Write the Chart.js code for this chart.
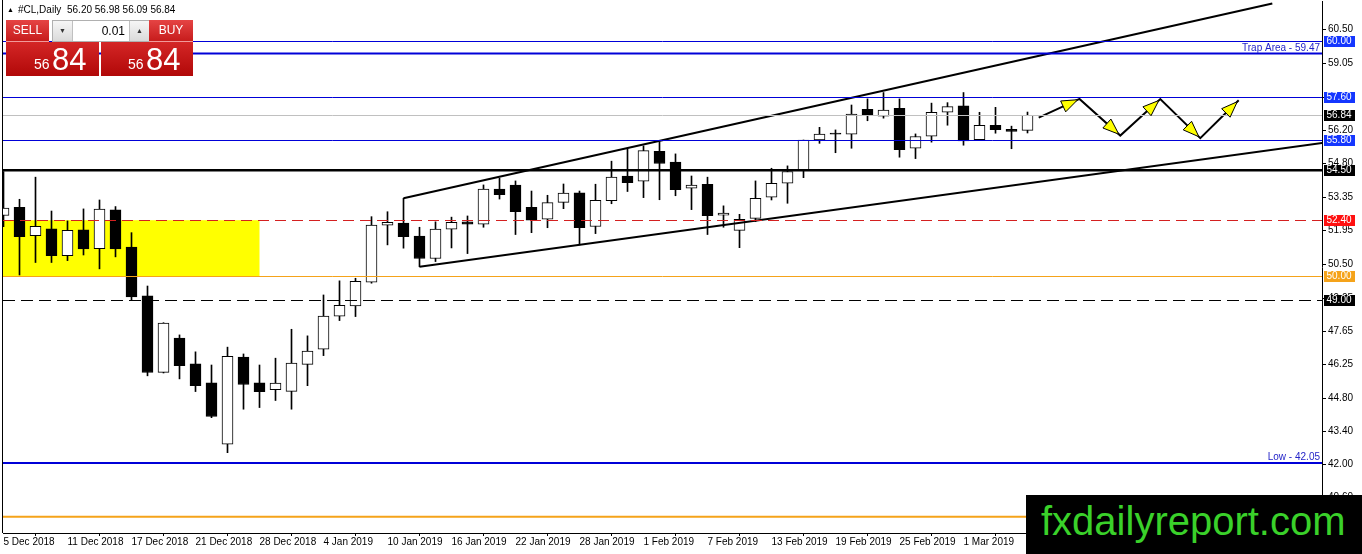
<!DOCTYPE html>
<html lang="en">
<head>
<meta charset="UTF-8">
<title>#CL,Daily</title>
<script src="https://cdn.jsdelivr.net/npm/chart.js"></script>
<style>
  body { margin: 0; background: #fff; font-family: "Liberation Sans", Arial, sans-serif; }
  .wrap { position: relative; width: 1362px; height: 554px; overflow: hidden; }
  #chart { position: absolute; left: 0; top: 0; }
  .tri { position: absolute; left: 7px; top: 6px; font-size: 7px; line-height: 7px; }
  .sym, .ohlc { position: absolute; top: 5px; font-size: 10px; line-height: 10px; white-space: pre; }
  .sym { left: 18px; }
  .ohlc { left: 67px; }
  .btn { position: absolute; top: 20px; height: 21px; color: #fff; font-size: 12px; line-height: 21px; text-align: center;
         background: linear-gradient(#e54444, #c71c1c); border-bottom: 1px solid #f19a9a; }
  .sell { left: 6px; width: 43px; }
  .buy { left: 149px; width: 44px; }
  .lot { position: absolute; left: 52px; top: 20px; width: 96px; height: 20px; border: 1px solid #b0b0b0; background: #fff; }
  .spin { position: absolute; top: 0; width: 19px; height: 20px; font-size: 7px; line-height: 20px; text-align: center; color: #333;
          background: linear-gradient(#f6f6f6, #dadada); }
  .dn { left: 0; border-right: 1px solid #c0c0c0; }
  .up { right: 0; border-left: 1px solid #c0c0c0; }
  .val { position: absolute; left: 20px; width: 52px; top: 0; font-size: 12px; line-height: 20px; text-align: right; color: #000; }
  .quote { position: absolute; top: 42px; height: 34px; color: #fff; background: linear-gradient(#d42626, #b10808); }
  .q-sell { left: 6px; width: 93px; }
  .q-buy { left: 101px; width: 92px; }
  .pre { position: absolute; top: 15px; font-size: 14px; line-height: 14px; }
  .big { position: absolute; top: 2px; font-size: 31px; line-height: 31px; }
  .brand { position: absolute; left: 1026px; top: 495px; width: 336px; height: 59px; background: #000; }
  .brand span { position: absolute; left: 15px; top: 6px; font-size: 40px; line-height: 40px; color: #3ad12a; }
</style>
</head>
<body>
<div class="wrap">
  <canvas id="chart" width="1362" height="554"></canvas>
  <span class="tri">&#9650;</span><span class="sym">#CL,Daily</span><span class="ohlc" id="ohlc"></span>
  <div class="btn sell">SELL</div>
  <div class="lot"><div class="spin dn">&#9660;</div><div class="val">0.01</div><div class="spin up">&#9650;</div></div>
  <div class="btn buy">BUY</div>
  <div class="quote q-sell"><span class="pre" style="left:28px">56</span><span class="big" style="left:46px">84</span></div>
  <div class="quote q-buy"><span class="pre" style="left:27px">56</span><span class="big" style="left:45px">84</span></div>
  <div class="brand"><span>fxdailyreport.com</span></div>
</div>

<script>
  // daily bars, 5 Dec 2018 .. 7 Mar 2019
  const opens  = [52.58, 52.93, 51.72, 52.01, 50.87, 51.97, 51.17, 52.82, 51.24, 49.16,
                  45.91, 47.37, 46.27, 45.46, 42.85, 46.56, 45.46, 45.17, 45.10, 46.25,
                  46.89, 48.30, 48.73, 49.74, 52.17, 52.26, 51.70, 50.75, 52.00, 52.31,
                  52.21, 53.70, 53.87, 52.93, 52.42, 53.14, 53.54, 52.11, 53.21, 54.26,
                  54.04, 55.31, 54.85, 53.74, 53.91, 52.59, 51.95, 52.46, 53.36, 53.95,
                  54.49, 55.79, 56.09, 56.04, 57.10, 56.80, 57.14, 55.44, 55.95, 56.97,
                  57.24, 55.81, 56.42, 56.25, 56.20];
  const highs  = [54.45, 53.27, 54.21, 52.77, 52.35, 52.86, 53.24, 52.96, 51.85, 49.58,
                  48.02, 47.50, 46.78, 46.22, 46.98, 46.69, 46.22, 46.51, 47.74, 47.46,
                  49.20, 49.80, 49.91, 52.53, 52.74, 53.31, 52.08, 52.31, 52.51, 52.56,
                  53.88, 54.17, 54.05, 53.62, 53.44, 53.92, 53.62, 53.91, 54.89, 55.41,
                  55.54, 55.71, 55.20, 54.26, 54.21, 52.99, 52.63, 54.05, 54.59, 54.69,
                  55.79, 56.33, 56.22, 57.28, 57.54, 57.81, 57.54, 56.05, 57.36, 57.38,
                  57.81, 56.97, 57.18, 56.38, 56.98];
  const lows   = [52.10, 50.05, 50.58, 50.58, 50.66, 50.90, 50.31, 50.82, 48.99, 45.76,
                  45.88, 45.63, 45.09, 43.98, 42.49, 44.34, 44.41, 44.71, 44.34, 45.34,
                  46.62, 48.11, 48.28, 49.70, 51.33, 51.19, 50.40, 50.62, 51.20, 50.96,
                  52.08, 53.28, 51.77, 51.85, 52.06, 52.87, 51.33, 51.81, 53.08, 53.60,
                  53.34, 53.25, 53.42, 52.83, 51.77, 52.08, 51.21, 52.32, 53.24, 53.10,
                  54.19, 55.65, 55.25, 55.44, 56.61, 56.72, 55.06, 55.00, 55.70, 56.42,
                  55.57, 55.81, 56.08, 55.42, 56.09];
  const closes = [52.89, 51.68, 52.12, 50.87, 51.95, 51.16, 52.85, 51.16, 49.12, 45.90,
                  48.00, 46.19, 45.34, 44.03, 46.59, 45.39, 45.09, 45.45, 46.30, 46.81,
                  48.30, 48.76, 49.78, 52.17, 52.29, 51.68, 50.75, 52.00, 52.29, 52.21,
                  53.70, 53.47, 52.74, 52.38, 53.13, 53.53, 52.06, 53.23, 54.21, 53.98,
                  55.34, 54.79, 53.68, 53.87, 52.57, 52.68, 52.42, 53.31, 53.95, 54.45,
                  55.79, 56.04, 56.04, 56.89, 56.84, 57.06, 55.38, 55.94, 56.97, 57.21,
                  55.75, 56.42, 56.23, 56.16, 56.84];

  // time axis labels, every 4th bar
  const tickBars  = [0, 4, 8, 12, 16, 20, 24, 28, 32, 36, 40, 44, 48, 52, 56, 60];
  const tickDates = ['5 Dec 2018', '11 Dec 2018', '17 Dec 2018', '21 Dec 2018', '28 Dec 2018',
                     '4 Jan 2019', '10 Jan 2019', '16 Jan 2019', '22 Jan 2019', '28 Jan 2019',
                     '1 Feb 2019', '7 Feb 2019', '13 Feb 2019', '19 Feb 2019', '25 Feb 2019', '1 Mar 2019'];
  const priceTicks = [60.50, 59.05, 57.60, 56.20, 54.80, 53.35, 51.95, 50.50, 49.05,
                      47.65, 46.25, 44.80, 43.40, 42.00, 40.60];

  // drawn objects (bar index / price)
  const upperTrendBars = [25, 79.3];
  const upperTrendPrices = [53.31, 61.6];
  const lowerTrendBars = [26, 82.5];
  const lowerTrendPrices = [50.40, 55.67];
  const zigzagBars = [64.7, 67.25, 69.8, 72.3, 74.8, 77.2];
  const zigzagPrices = [56.74, 57.54, 55.98, 57.53, 55.87, 57.48];
  const zoneBars = [-2, 16];
  const zonePrices = [50.00, 52.38];
  const levelPrices = [60.00, 59.47, 57.60, 56.84, 55.80, 54.50, 52.40, 50.00, 49.00, 42.05, 39.76];
  const levelTags = ['', 'Trap Area', '', '', '', '', '', '', '', 'Low', ''];

  const BLUE = '#0000d8', BOX_BLUE = '#1436ff', ORANGE = '#f5a31a';
  const levelStyles = [
    {color: BLUE, width: 1, box: BOX_BLUE},
    {color: BLUE, width: 2},
    {color: BLUE, width: 1, box: BOX_BLUE},
    {color: '#c0c0c0', width: 1, box: '#000'},
    {color: BLUE, width: 1, box: BOX_BLUE},
    {color: '#000', width: 2.5, box: '#000'},
    {color: '#d42020', width: 1, dash: [11, 6], box: '#ff1010'},
    {color: ORANGE, width: 1, box: ORANGE},
    {color: '#000', width: 1, dash: [12, 6], box: '#000'},
    {color: BLUE, width: 2},
    {color: ORANGE, width: 2, box: ORANGE}
  ];

  const FONT = '"Liberation Sans", Arial, sans-serif';
  Chart.defaults.font.family = FONT;

  const last = opens.length - 1;
  document.getElementById('ohlc').textContent =
    [opens[last], highs[last], lows[last], closes[last]].map(v => v.toFixed(2)).join(' ');

  const bars = opens.map((o, i) => i);

  function arrowHead(ctx, from, to) {
    const a = Math.atan2(to.y - from.y, to.x - from.x);
    const c = Math.cos(a), s = Math.sin(a);
    const tx = to.x - 2 * c, ty = to.y - 2 * s;
    const bx = tx - 16 * c, by = ty - 16 * s;
    ctx.beginPath();
    ctx.moveTo(tx, ty);
    ctx.lineTo(bx + 6 * s, by - 6 * c);
    ctx.lineTo(bx - 6 * s, by + 6 * c);
    ctx.closePath();
    ctx.fillStyle = '#ffff00';
    ctx.fill();
    ctx.lineWidth = 1;
    ctx.strokeStyle = '#000';
    ctx.stroke();
  }

  const drawings = {
    id: 'drawings',
    beforeDatasetsDraw(chart) {
      const {ctx, chartArea: area, scales: {x, y}} = chart;
      ctx.save();
      ctx.beginPath();
      ctx.rect(area.left, area.top, area.width, area.height);
      ctx.clip();
      const x0 = x.getPixelForValue(zoneBars[0]), x1 = x.getPixelForValue(zoneBars[1]);
      const y0 = y.getPixelForValue(zonePrices[1]), y1 = y.getPixelForValue(zonePrices[0]);
      ctx.fillStyle = '#ffff00';
      ctx.fillRect(x0, y0, x1 - x0, y1 - y0);
      ctx.restore();
    },
    afterDatasetsDraw(chart) {
      const {ctx, chartArea: area, scales: {y}} = chart;
      ctx.save();
      ctx.beginPath();
      ctx.rect(area.left, area.top, area.width, area.height);
      ctx.clip();
      levelPrices.forEach((p, i) => {
        const st = levelStyles[i];
        let py = y.getPixelForValue(p);
        if (st.width === 1) py = Math.round(py) + 0.5;
        ctx.beginPath();
        ctx.setLineDash(st.dash || []);
        ctx.lineWidth = st.width;
        ctx.strokeStyle = st.color;
        ctx.moveTo(area.left, py);
        ctx.lineTo(area.right, py);
        ctx.stroke();
        if (levelTags[i]) {
          ctx.setLineDash([]);
          ctx.font = '10px ' + FONT;
          ctx.fillStyle = '#2424c8';
          ctx.textAlign = 'right';
          ctx.textBaseline = 'alphabetic';
          ctx.fillText(levelTags[i] + ' - ' + p.toFixed(2), area.right - 2, py - 3);
        }
      });
      ctx.setLineDash([]);
      const pts = chart.getDatasetMeta(4).data;
      for (let k = 1; k < pts.length; k++) arrowHead(ctx, pts[k - 1], pts[k]);
      ctx.restore();
    },
    afterDraw(chart) {
      const {ctx, chartArea: area, scales: {y}} = chart;
      ctx.save();
      ctx.fillStyle = '#000';
      ctx.fillRect(area.left - 1, 0, 1, area.bottom);
      ctx.font = '10px ' + FONT;
      ctx.textAlign = 'left';
      ctx.textBaseline = 'middle';
      levelPrices.forEach((p, i) => {
        const st = levelStyles[i];
        if (!st.box) return;
        const py = y.getPixelForValue(p);
        ctx.fillStyle = st.box;
        ctx.fillRect(area.right + 2, Math.round(py) - 5, 31, 11);
        ctx.fillStyle = '#fff';
        ctx.fillText(p.toFixed(2), area.right + 4.5, Math.round(py) + 0.5);
      });
      ctx.restore();
    }
  };

  const axisFont = {family: FONT, size: 10};

  new Chart(document.getElementById('chart'), {
    type: 'bar',
    data: {
      datasets: [
        {
          label: 'wick',
          data: bars.map(i => ({x: i, y: [lows[i], highs[i]]})),
          backgroundColor: '#000',
          borderWidth: 0,
          barThickness: 1,
          grouped: false,
          order: 3
        },
        {
          label: 'body',
          data: bars.map(i => ({x: i, y: [Math.min(opens[i], closes[i]), Math.max(opens[i], closes[i])]})),
          backgroundColor: bars.map(i => closes[i] >= opens[i] ? '#fff' : '#000'),
          borderColor: '#000',
          borderWidth: 1,
          borderSkipped: false,
          barThickness: 11,
          grouped: false,
          order: 2
        },
        {
          type: 'line',
          label: 'upper channel',
          data: upperTrendBars.map((b, i) => ({x: b, y: upperTrendPrices[i]})),
          borderColor: '#000',
          borderWidth: 2,
          pointRadius: 0,
          order: 1
        },
        {
          type: 'line',
          label: 'lower channel',
          data: lowerTrendBars.map((b, i) => ({x: b, y: lowerTrendPrices[i]})),
          borderColor: '#000',
          borderWidth: 2,
          pointRadius: 0,
          order: 1
        },
        {
          type: 'line',
          label: 'projection',
          data: zigzagBars.map((b, i) => ({x: b, y: zigzagPrices[i]})),
          borderColor: '#000',
          borderWidth: 2,
          pointRadius: 0,
          order: 0
        }
      ]
    },
    options: {
      responsive: false,
      animation: false,
      layout: {padding: {left: 3, top: 1, right: 0, bottom: 0}},
      plugins: {legend: {display: false}, tooltip: {enabled: false}},
      scales: {
        x: {
          type: 'linear',
          min: -0.03125,
          max: 82.40625,
          offset: false,
          grid: {drawOnChartArea: false, color: '#000', tickLength: 3},
          border: {color: '#000'},
          ticks: {
            autoSkip: false, maxRotation: 0, align: 'start', padding: 0, color: '#000', font: axisFont,
            callback: v => {
              const k = tickBars.indexOf(v);
              return k >= 0 ? tickDates[k] : '';
            }
          },
          afterBuildTicks: s => { s.ticks = tickBars.map(v => ({value: v})); },
          afterFit: s => { s.height = 21; s.paddingLeft = 0; s.paddingRight = 0; }
        },
        y: {
          position: 'right',
          min: 39.074,
          max: 61.704,
          grid: {drawOnChartArea: false, color: '#000', tickLength: 4},
          border: {color: '#000'},
          ticks: {padding: 2, color: '#000', font: axisFont, callback: v => v.toFixed(2)},
          afterBuildTicks: s => { s.ticks = priceTicks.map(v => ({value: v})); },
          afterFit: s => { s.width = 40; s.paddingTop = 0; s.paddingBottom = 0; }
        }
      }
    },
    plugins: [drawings]
  });
</script>
</body>
</html>
